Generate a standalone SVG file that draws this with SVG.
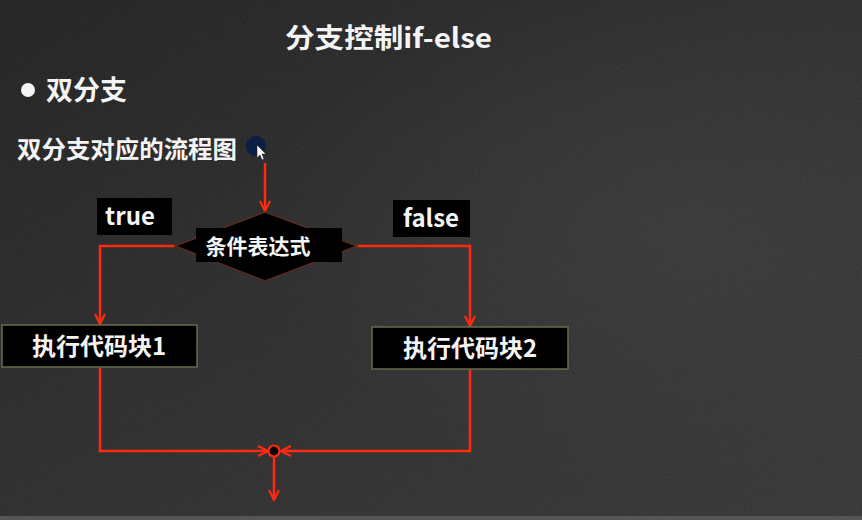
<svg xmlns="http://www.w3.org/2000/svg" width="862" height="520" viewBox="0 0 862 520">
  <defs>
    <linearGradient id="board" x1="0" y1="0" x2="1" y2="1">
      <stop offset="0" stop-color="#1e1e1e"/>
      <stop offset="0.45" stop-color="#292929"/>
      <stop offset="1" stop-color="#333333"/>
    </linearGradient>
    <radialGradient id="glow" cx="0.8" cy="0.45" r="0.5">
      <stop offset="0" stop-color="#3a3a3a" stop-opacity="0.6"/>
      <stop offset="1" stop-color="#3a3a3a" stop-opacity="0"/>
    </radialGradient>
    <filter id="chalk" x="0" y="0" width="100%" height="100%">
      <feTurbulence type="fractalNoise" baseFrequency="0.9" numOctaves="2" seed="3" result="n"/>
      <feColorMatrix type="matrix" values="0 0 0 0 1  0 0 0 0 1  0 0 0 0 1  0 0 0 0.08 0"/>
    </filter>
    <marker id="arrow" viewBox="0 0 12 12" refX="11" refY="6" markerWidth="12" markerHeight="12" markerUnits="userSpaceOnUse" orient="auto">
      <path d="M1,1 L11,6 L1,11" fill="none" stroke="#ff2a10" stroke-width="2.2"/>
    </marker>
    <style>
      .txt { font-family: "Noto Sans CJK SC", "Liberation Sans", sans-serif; font-weight: bold; fill: #f4f4f4; }
      .flow { fill: none; stroke: #ff2a10; stroke-width: 2.5; }
      .box { fill: #000000; stroke: #6a6a4e; stroke-width: 1.5; }
      .tag { fill: #000000; }
    </style>
  </defs>

  <!-- chalkboard background -->
  <rect width="862" height="520" fill="url(#board)"/>
  <rect width="862" height="520" fill="url(#glow)"/>
  <rect width="862" height="520" filter="url(#chalk)"/>
  <rect x="0" y="516" width="862" height="4" fill="#555555"/>

  <!-- headings -->
  <text class="txt" x="285" y="48" font-size="27" textLength="207" lengthAdjust="spacingAndGlyphs">分支控制if-else</text>
  <circle cx="28" cy="90" r="7" fill="#f4f4f4"/>
  <text class="txt" x="46" y="100" font-size="27">双分支</text>
  <text class="txt" x="17" y="158" font-size="24" textLength="220" lengthAdjust="spacingAndGlyphs">双分支对应的流程图</text>

  <!-- pointer -->
  <g id="pointer">
    <circle cx="256" cy="146" r="10" fill="#0b1f45"/>
    <path d="M257,145 L257,158 L260,155 L262,160 L264,159 L262,154 L266,154 Z" fill="#ffffff" stroke="#222" stroke-width="0.6"/>
  </g>

  <!-- connectors -->
  <g id="connectors">
    <line class="flow" x1="265" y1="163" x2="265" y2="211" marker-end="url(#arrow)"/>
    <polyline class="flow" points="175,246 100,246 100,324" marker-end="url(#arrow)"/>
    <polyline class="flow" points="356,246 470,246 470,326" marker-end="url(#arrow)"/>
    <polyline class="flow" points="100,368 100,451 268,451" marker-end="url(#arrow)"/>
    <polyline class="flow" points="470,370 470,451 281,451" marker-end="url(#arrow)"/>
    <line class="flow" x1="274" y1="457" x2="274" y2="500" marker-end="url(#arrow)"/>
  </g>

  <!-- decision -->
  <g id="condition">
    <polygon points="265,212 357,246 265,281 175,246" fill="#000000" stroke="#5a2a22" stroke-width="1.5"/>
    <rect x="196" y="228" width="146" height="34" fill="#000000"/>
    <text class="txt" x="258" y="254" font-size="21" text-anchor="middle">条件表达式</text>
  </g>

  <!-- branch labels -->
  <g id="label-true">
    <rect class="tag" x="97" y="198" width="75" height="37"/>
    <text class="txt" x="130" y="225" font-size="24" text-anchor="middle">true</text>
  </g>
  <g id="label-false">
    <rect class="tag" x="393" y="200" width="77" height="37"/>
    <text class="txt" x="431" y="227" font-size="24" text-anchor="middle">false</text>
  </g>

  <!-- code blocks -->
  <g id="block1">
    <rect class="box" x="2" y="325" width="195" height="42"/>
    <text class="txt" x="99" y="355" font-size="24" text-anchor="middle">执行代码块1</text>
  </g>
  <g id="block2">
    <rect class="box" x="372" y="327" width="196" height="42"/>
    <text class="txt" x="470" y="357" font-size="24" text-anchor="middle">执行代码块2</text>
  </g>

  <!-- merge point -->
  <g id="merge">
    <circle cx="274" cy="451" r="5.5" fill="#000000" stroke="#ff2a10" stroke-width="2.2"/>
  </g>
</svg>
